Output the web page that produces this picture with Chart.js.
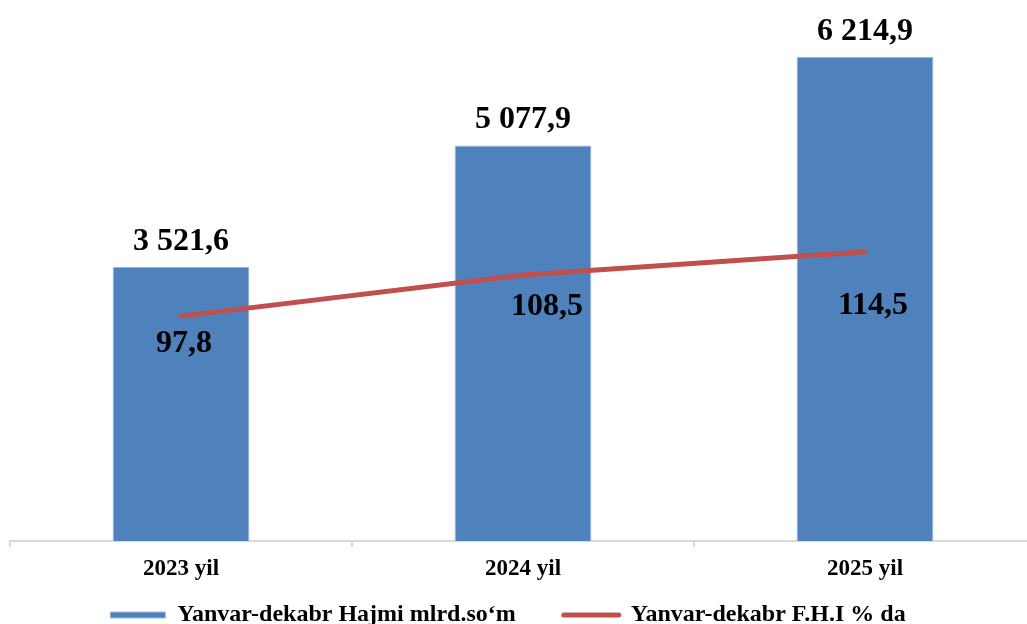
<!DOCTYPE html>
<html><head><meta charset="utf-8">
<script src="https://cdn.jsdelivr.net/npm/chart.js@4"></script>
<style>
html,body{margin:0;padding:0;overflow:hidden;background:#fff}
#wrap{width:1036px;height:640px;position:relative}
</style>
</head><body><div id="wrap"><canvas id="c"></canvas></div>
<script>
const categories = ['2023 yil', '2024 yil', '2025 yil'];
const volumeValues = [3521.6, 5077.9, 6214.9];
const indexValues = [97.8, 108.5, 114.5];
const seriesNames = ['Yanvar-dekabr Hajmi mlrd.so\u2018m', 'Yanvar-dekabr F.H.I % da'];

const FONT = "'Liberation Serif','Times New Roman',serif";
const LEGEND_PAD = 48;
const CANVAS_H = 640;
const PAD_BOTTOM = 3;

function fmt(v) {
  const parts = v.toFixed(1).split('.');
  const intPart = parts[0].replace(/\B(?=(\d{3})+(?!\d))/g, ' ');
  return intPart + ',' + parts[1];
}

const labelPlugin = {
  id: 'valueLabels',
  afterDatasetsDraw(chart, args, opts) {
    const ctx = chart.ctx;
    ctx.save();
    ctx.fillStyle = '#000';
    ctx.textAlign = 'center';
    ctx.textBaseline = 'alphabetic';
    ctx.font = 'bold 32px ' + FONT;
    const barMeta = chart.getDatasetMeta(0);
    barMeta.data.forEach((el, i) => {
      ctx.fillText(fmt(volumeValues[i]), el.x, el.y - opts.barGap);
    });
    const lineMeta = chart.getDatasetMeta(1);
    lineMeta.data.forEach((el, i) => {
      const off = opts.lineOffsets[i];
      ctx.fillText(fmt(indexValues[i]), el.x + off[0], el.y + off[1]);
    });
    ctx.restore();
  }
};

new Chart(document.getElementById('c'), {
  data: {
    labels: categories,
    datasets: [
      {
        type: 'bar',
        label: seriesNames[0],
        data: volumeValues,
        backgroundColor: '#4F81BD',
        borderColor: '#9DB9DC',
        borderWidth: 1,
        categoryPercentage: 1,
        barPercentage: 0.4,
        yAxisID: 'y',
        order: 1
      },
      {
        type: 'line',
        label: seriesNames[1],
        data: indexValues,
        borderColor: '#C0504D',
        backgroundColor: '#C0504D',
        borderWidth: 5,
        borderCapStyle: 'round',
        pointRadius: 0,
        tension: 0,
        yAxisID: 'y1',
        order: 0
      }
    ]
  },
  options: {
    responsive: true,
    maintainAspectRatio: false,
    animation: false,
    devicePixelRatio: 1,
    layout: { padding: { left: -20, right: 0, top: 0, bottom: PAD_BOTTOM } },
    scales: {
      x: {
        grid: { display: true, drawOnChartArea: false, drawTicks: true, tickLength: 6, color: '#D9D9D9', lineWidth: 2, offset: true },
        border: { display: true, color: '#D9D9D9', width: 2 },
        ticks: { color: '#000', font: { family: FONT, size: 23, weight: 'bold' }, mirror: true, padding: -41.8 },
        afterFit(s) { s.height = (CANVAS_H - PAD_BOTTOM) - 34 - LEGEND_PAD - 541; }
      },
      y: { display: false, position: 'left', min: 0, max: 6945, afterFit(s) { s.width = 30; } },
      y1: { display: false, position: 'right', min: 39.4, max: 179.9 }
    },
    plugins: {
      tooltip: { enabled: false },
      legend: {
        position: 'bottom',
        labels: {
          usePointStyle: true,
          pointStyleWidth: 55,
          boxHeight: 6,
          padding: LEGEND_PAD,
          color: '#000',
          font: { family: FONT, size: 24, weight: 'bold' },
          sort: (a, b) => a.datasetIndex - b.datasetIndex,
          generateLabels(chart) {
            const items = Chart.defaults.plugins.legend.labels.generateLabels(chart);
            items.forEach(it => {
              const ds = chart.data.datasets[it.datasetIndex];
              it.pointStyle = ds.type === 'line' ? 'line' : 'rect';
              if (ds.type === 'line') { it.lineWidth = 5; it.lineCap = 'round'; }
            });
            return items;
          }
        }
      },
      valueLabels: { barGap: 17, lineOffsets: [[3, 36], [24, 40], [8, 62]] }
    }
  },
  plugins: [labelPlugin]
});
</script>
</body></html>
